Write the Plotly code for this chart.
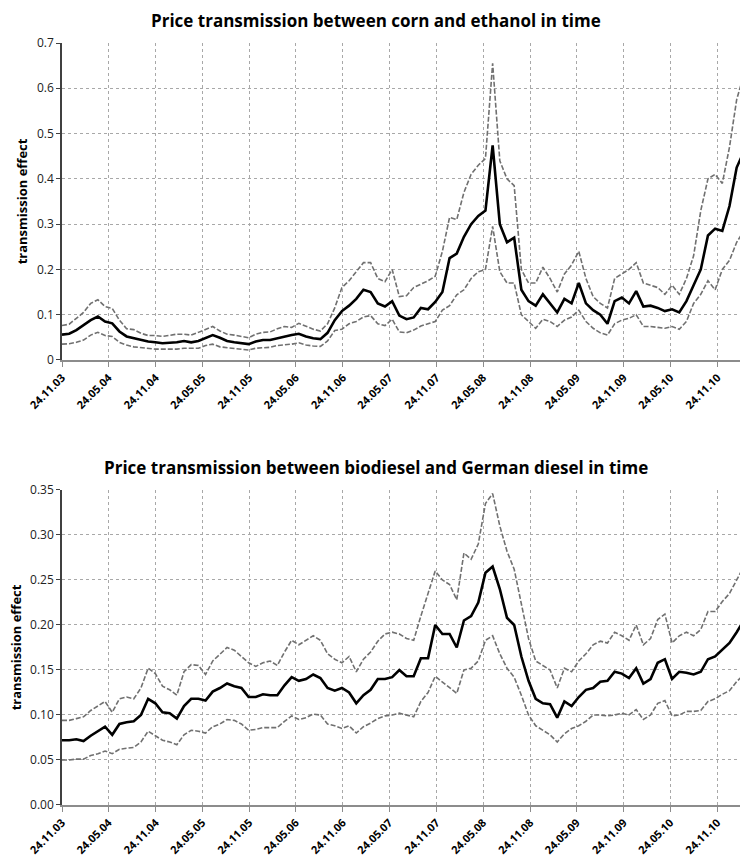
import pandas as pd
import plotly.graph_objects as go

# dates: every 4 weeks from 24.11.2003
dates = pd.date_range("2003-11-24", periods=96, freq="28D")

tick_labels = ["24.11.03", "24.05.04", "24.11.04", "24.05.05", "24.11.05",
               "24.05.06", "24.11.06", "24.05.07", "24.11.07", "24.05.08",
               "24.11.08", "24.05.09", "24.11.09", "24.05.10", "24.11.10"]
tick_dates = pd.to_datetime(tick_labels, format="%d.%m.%y")

# corn - ethanol
corn_mid = [0.056, 0.058, 0.066, 0.077, 0.088, 0.096, 0.085, 0.081, 0.063, 0.052,
            0.048, 0.044, 0.041, 0.039, 0.037, 0.038, 0.039, 0.042, 0.039, 0.042,
            0.049, 0.055, 0.049, 0.042, 0.039, 0.037, 0.035, 0.041, 0.044, 0.044,
            0.048, 0.052, 0.055, 0.058, 0.052, 0.048, 0.046, 0.060, 0.088, 0.108,
            0.120, 0.135, 0.155, 0.150, 0.125, 0.118, 0.130, 0.098, 0.090, 0.094,
            0.115, 0.112, 0.128, 0.150, 0.225, 0.235, 0.272, 0.300, 0.318, 0.330,
            0.474, 0.300, 0.260, 0.270, 0.155, 0.130, 0.120, 0.145, 0.125, 0.105,
            0.135, 0.125, 0.170, 0.125, 0.110, 0.100, 0.080, 0.130, 0.138, 0.125,
            0.152, 0.118, 0.120, 0.115, 0.108, 0.112, 0.105, 0.130, 0.165, 0.200,
            0.275, 0.290, 0.285, 0.340, 0.425, 0.460]
corn_upper = [0.076, 0.079, 0.092, 0.105, 0.125, 0.133, 0.118, 0.114, 0.088, 0.069,
              0.067, 0.059, 0.054, 0.054, 0.052, 0.055, 0.057, 0.057, 0.055, 0.061,
              0.067, 0.074, 0.064, 0.057, 0.055, 0.052, 0.049, 0.057, 0.061, 0.062,
              0.069, 0.074, 0.072, 0.081, 0.074, 0.068, 0.064, 0.080, 0.115, 0.160,
              0.175, 0.195, 0.215, 0.215, 0.180, 0.173, 0.200, 0.140, 0.142, 0.160,
              0.168, 0.175, 0.185, 0.240, 0.315, 0.310, 0.370, 0.410, 0.430, 0.445,
              0.655, 0.440, 0.400, 0.385, 0.200, 0.170, 0.170, 0.205, 0.180, 0.150,
              0.190, 0.210, 0.240, 0.180, 0.140, 0.125, 0.115, 0.180, 0.190, 0.200,
              0.215, 0.170, 0.165, 0.160, 0.145, 0.165, 0.145, 0.180, 0.230, 0.330,
              0.400, 0.410, 0.390, 0.470, 0.575, 0.630]
corn_lower = [0.035, 0.036, 0.039, 0.044, 0.055, 0.061, 0.054, 0.052, 0.039, 0.033,
              0.029, 0.027, 0.026, 0.024, 0.024, 0.024, 0.024, 0.026, 0.026, 0.026,
              0.032, 0.035, 0.029, 0.027, 0.026, 0.024, 0.022, 0.026, 0.027, 0.028,
              0.032, 0.033, 0.035, 0.038, 0.033, 0.031, 0.030, 0.042, 0.065, 0.068,
              0.080, 0.085, 0.095, 0.098, 0.080, 0.076, 0.090, 0.062, 0.060, 0.066,
              0.075, 0.080, 0.085, 0.110, 0.120, 0.144, 0.155, 0.180, 0.195, 0.200,
              0.295, 0.195, 0.170, 0.170, 0.100, 0.085, 0.070, 0.090, 0.085, 0.074,
              0.088, 0.095, 0.110, 0.085, 0.070, 0.060, 0.055, 0.080, 0.088, 0.092,
              0.100, 0.074, 0.074, 0.072, 0.070, 0.074, 0.068, 0.085, 0.125, 0.145,
              0.175, 0.155, 0.200, 0.220, 0.260, 0.285]

# biodiesel - German diesel
bio_mid = [0.072, 0.072, 0.073, 0.071, 0.077, 0.082, 0.087, 0.078, 0.090, 0.092,
           0.093, 0.100, 0.118, 0.113, 0.103, 0.102, 0.096, 0.110, 0.118, 0.118,
           0.116, 0.126, 0.130, 0.135, 0.132, 0.130, 0.120, 0.120, 0.123, 0.122,
           0.122, 0.133, 0.142, 0.138, 0.140, 0.145, 0.141, 0.130, 0.127, 0.130,
           0.125, 0.113, 0.122, 0.128, 0.140, 0.140, 0.142, 0.150, 0.143, 0.143,
           0.163, 0.163, 0.200, 0.190, 0.190, 0.175, 0.205, 0.210, 0.225, 0.258,
           0.265, 0.240, 0.208, 0.200, 0.165, 0.138, 0.118, 0.113, 0.112, 0.097,
           0.115, 0.110, 0.120, 0.128, 0.130, 0.137, 0.138, 0.148, 0.146, 0.141,
           0.152, 0.135, 0.140, 0.158, 0.162, 0.140, 0.148, 0.147, 0.145, 0.148,
           0.162, 0.165, 0.173, 0.180, 0.192, 0.205]
bio_upper = [0.094, 0.094, 0.096, 0.098, 0.105, 0.110, 0.115, 0.103, 0.118, 0.120,
             0.118, 0.130, 0.152, 0.146, 0.132, 0.128, 0.122, 0.148, 0.156, 0.155,
             0.145, 0.160, 0.168, 0.175, 0.172, 0.165, 0.158, 0.154, 0.158, 0.160,
             0.155, 0.170, 0.183, 0.178, 0.183, 0.188, 0.183, 0.168, 0.162, 0.158,
             0.165, 0.148, 0.162, 0.170, 0.182, 0.190, 0.192, 0.190, 0.185, 0.183,
             0.210, 0.235, 0.260, 0.250, 0.245, 0.228, 0.280, 0.273, 0.290, 0.335,
             0.346, 0.310, 0.282, 0.262, 0.222, 0.185, 0.160, 0.155, 0.150, 0.130,
             0.152, 0.148, 0.160, 0.168, 0.178, 0.182, 0.180, 0.192, 0.188, 0.183,
             0.200, 0.178, 0.185, 0.206, 0.212, 0.180, 0.188, 0.192, 0.188, 0.195,
             0.215, 0.215, 0.226, 0.235, 0.250, 0.265]
bio_lower = [0.050, 0.050, 0.051, 0.051, 0.055, 0.057, 0.060, 0.057, 0.062, 0.063,
             0.064, 0.070, 0.082, 0.077, 0.072, 0.070, 0.067, 0.078, 0.083, 0.082,
             0.080, 0.087, 0.090, 0.095, 0.094, 0.090, 0.083, 0.084, 0.086, 0.086,
             0.086, 0.093, 0.099, 0.095, 0.097, 0.101, 0.100, 0.090, 0.088, 0.085,
             0.088, 0.080, 0.087, 0.091, 0.096, 0.099, 0.100, 0.102, 0.100, 0.098,
             0.115, 0.125, 0.143, 0.137, 0.130, 0.124, 0.150, 0.152, 0.160, 0.183,
             0.188, 0.168, 0.152, 0.142, 0.122, 0.100, 0.088, 0.083, 0.078, 0.070,
             0.079, 0.085, 0.088, 0.093, 0.100, 0.100, 0.099, 0.100, 0.102, 0.100,
             0.106, 0.095, 0.100, 0.113, 0.116, 0.099, 0.100, 0.104, 0.104, 0.105,
             0.115, 0.118, 0.123, 0.127, 0.137, 0.145]

font = "Open Sans"
band = dict(color="#707070", width=1.6, dash="5px,2px")
mid = dict(color="black", width=2.6)

fig = go.Figure()
for y, ln, ax in [(corn_upper, band, ""), (corn_lower, band, ""), (corn_mid, mid, ""),
                  (bio_upper, band, "2"), (bio_lower, band, "2"), (bio_mid, mid, "2")]:
    fig.add_trace(go.Scatter(x=dates, y=y, mode="lines", line=ln, showlegend=False,
                             xaxis="x" + ax, yaxis="y" + ax))

xcommon = dict(type="date", range=["2003-11-24", "2011-02-20"],
               tickvals=tick_dates, ticktext=tick_labels, tickangle=-45,
               tickfont=dict(family=font, size=11, color="black", weight="bold"),
               showgrid=True, gridcolor="#a8a8a8", griddash="dot", gridwidth=1,
               showline=True, linecolor="#8c8c8c", linewidth=2,
               ticks="outside", ticklen=5, tickcolor="#8c8c8c", zeroline=False,
               automargin=False)
ycommon = dict(showgrid=True, gridcolor="#a8a8a8", griddash="dot", gridwidth=1,
               showline=True, linecolor="#404040", linewidth=1.5,
               ticks="outside", ticklen=4, tickcolor="#404040", zeroline=False,
               tickfont=dict(family=font, size=12, color="#222222"),
               automargin=False,
               title=dict(text="transmission effect", standoff=6,
                          font=dict(family=font, size=13, color="black", weight="bold")))

fig.update_layout(
    width=740, height=863,
    margin=dict(l=62, r=0, t=43, b=58),
    paper_bgcolor="white", plot_bgcolor="white",
    xaxis=dict(xcommon, domain=[0, 1], anchor="y"),
    yaxis=dict(ycommon, domain=[0.584, 1.0], range=[0, 0.7], dtick=0.1, anchor="x"),
    xaxis2=dict(xcommon, domain=[0, 1], anchor="y2"),
    yaxis2=dict(ycommon, domain=[0, 0.4134], range=[0, 0.35], dtick=0.05,
                tickformat=".2f", anchor="x2"),
    annotations=[
        dict(text="Price transmission between corn and ethanol in time",
             xref="paper", yref="paper", x=0.463, y=1.0, yanchor="middle", yshift=23,
             showarrow=False,
             font=dict(family=font, size=17, color="black", weight="bold")),
        dict(text="Price transmission between biodiesel and German diesel in time",
             xref="paper", yref="paper", x=0.463, y=0.4134, yanchor="middle", yshift=22,
             showarrow=False,
             font=dict(family=font, size=17, color="black", weight="bold")),
    ],
)

# drop the default body margin so the figure fills the window exactly
fig.write_html("out.html", config={"displayModeBar": False},
               post_script="document.body.style.margin='0';document.body.style.overflow='hidden';")
